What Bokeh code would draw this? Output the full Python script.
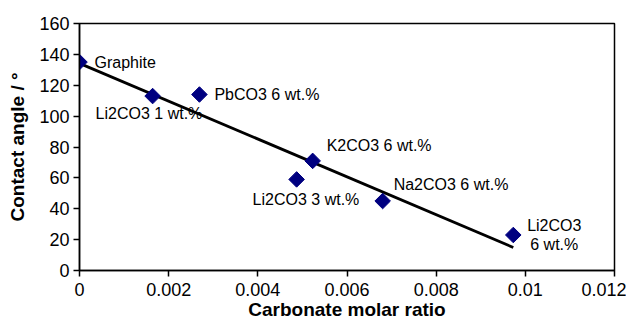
import numpy as np
from bokeh.plotting import figure
from bokeh.models import ColumnDataSource, Range1d, FixedTicker
from bokeh.core.properties import value
from bokeh.embed import file_html
from bokeh.resources import INLINE

# data
labels = ["Graphite", "Li2CO3 1 wt.%", "PbCO3 6 wt.%", "K2CO3 6 wt.%",
          "Li2CO3 3 wt.%", "Na2CO3 6 wt.%", "Li2CO3\n6 wt.%"]
molar_ratio = [0.0, 0.00164, 0.00269, 0.00523, 0.00487, 0.0068, 0.00973]
contact_angle = [135, 113, 114, 71, 59, 45, 23]
x_ticks = [0, 0.002, 0.004, 0.006, 0.008, 0.01, 0.012]
x_tick_labels = ["0", "0.002", "0.004", "0.006", "0.008", "0.01", "0.012"]
y_ticks = [0, 20, 40, 60, 80, 100, 120, 140, 160]

# label placement (screen px), styles
label_dx = [15, -57, 15, 14, -44, 11, 41]
label_dy = [0, 17, 0, -15, 20, -17, 0]
label_align = ["left", "left", "left", "left", "left", "left", "center"]

FONT = "Liberation Sans"

p = figure(width=626, height=316, output_backend="svg", toolbar_location=None,
           x_range=Range1d(0, 0.012), y_range=Range1d(0, 160),
           frame_width=535, frame_height=247,
           min_border_left=79, min_border_right=12, min_border_top=23, min_border_bottom=46)
p.outline_line_color = "black"
p.outline_line_width = 1.5
p.xgrid.visible = False
p.ygrid.visible = False
p.background_fill_color = "white"
p.border_fill_color = "white"

# trend line (least-squares fit of the data)
slope, intercept = np.polyfit(molar_ratio, contact_angle, 1)
lx = [min(molar_ratio), max(molar_ratio)]
ly = [intercept + slope * v for v in lx]
p.line(lx, ly, line_color="black", line_width=2.8)

src = ColumnDataSource(dict(x=molar_ratio, y=contact_angle, t=labels,
                            dx=label_dx, dy=label_dy, al=label_align))
p.scatter("x", "y", source=src, marker="square", size=11, angle=np.pi / 4,
          fill_color="#000080", line_color="#000080")
p.text("x", "y", text="t", source=src, x_offset="dx", y_offset="dy",
       text_align="al", text_baseline="middle",
       text_font=value(FONT), text_font_size="16px", text_color="black",
       text_line_height=1.15)

for ax in (p.xaxis[0], p.yaxis[0]):
    ax.axis_line_color = "black"
    ax.axis_line_width = 1.5
    ax.major_tick_line_color = "black"
    ax.major_tick_line_width = 1.5
    ax.major_tick_out = 6
    ax.major_tick_in = 0
    ax.minor_tick_line_color = None
    ax.major_label_text_font = FONT
    ax.major_label_text_font_size = "18px"
    ax.major_label_text_color = "black"
    ax.axis_label_text_font = FONT
    ax.axis_label_text_font_size = "19px"
    ax.axis_label_text_font_style = "bold"
    ax.axis_label_text_color = "black"

p.xaxis.ticker = FixedTicker(ticks=x_ticks)
p.xaxis.major_label_overrides = {t: s for t, s in zip(x_ticks, x_tick_labels)}
p.yaxis.ticker = FixedTicker(ticks=y_ticks)
p.xaxis.axis_label = "Carbonate molar ratio"
p.yaxis.axis_label = "Contact angle / °"
p.xaxis.major_label_standoff = 6
p.yaxis.major_label_standoff = 4
p.xaxis.axis_label_standoff = 0
p.yaxis.axis_label_standoff = 8

open("out.html", "w").write(file_html(p, INLINE))
